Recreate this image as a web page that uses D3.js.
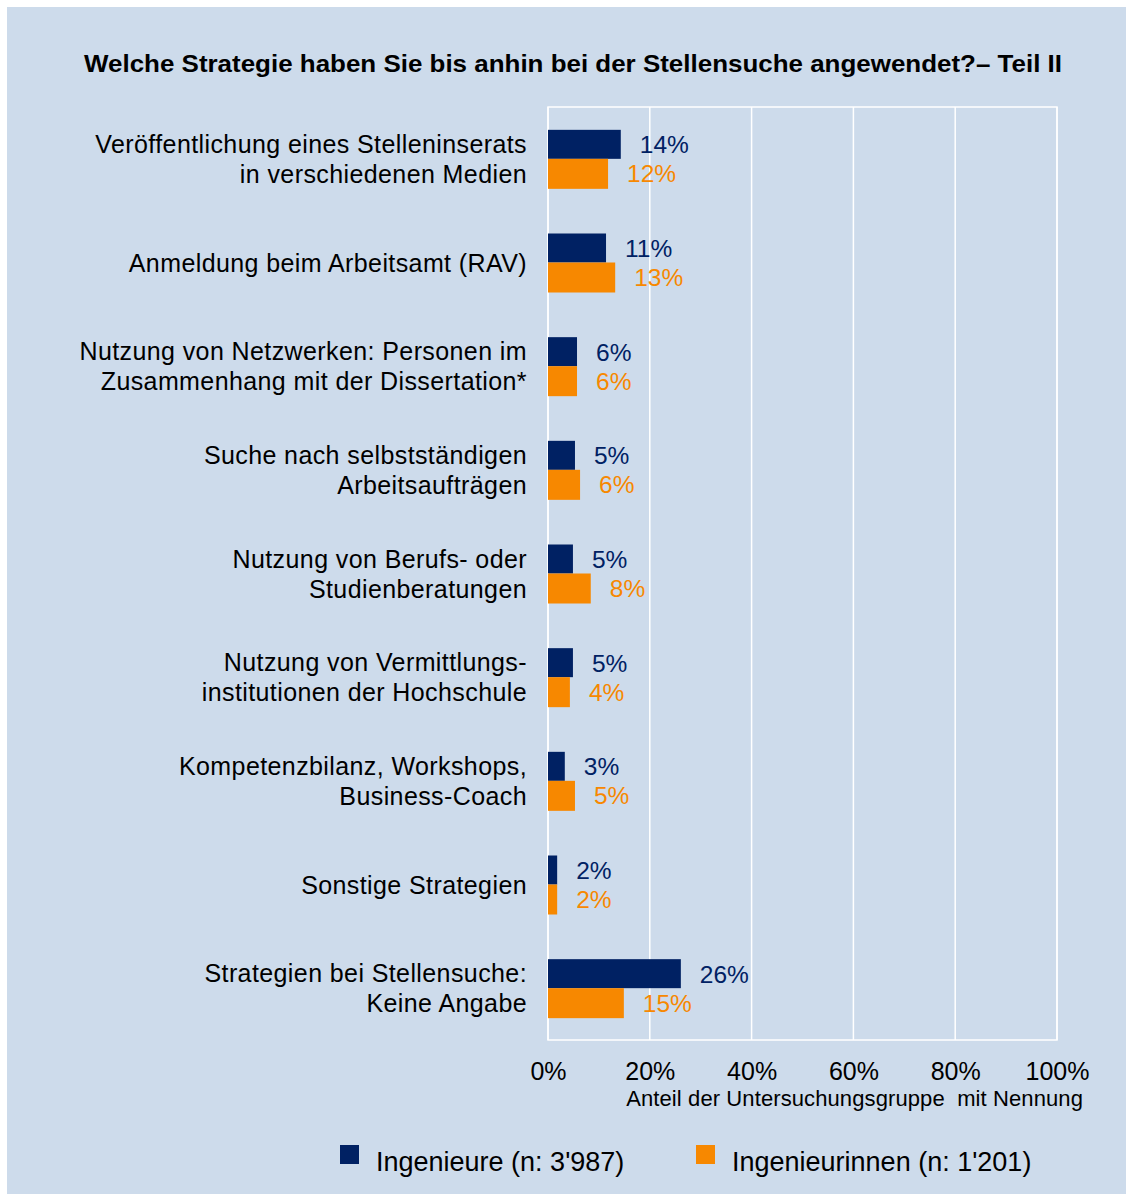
<!DOCTYPE html>
<html>
<head>
<meta charset="utf-8">
<script src="https://cdn.jsdelivr.net/npm/d3@7"></script>
<style>
  body { margin: 0; background: #fff; }
  text { font-family: "Liberation Sans", Arial, sans-serif; }
</style>
</head>
<body>
<div id="vis"></div>
<script>
var viewWidth = 1126
var viewHeight = 1194

var categories = [
  ["Veröffentlichung eines Stelleninserats", "in verschiedenen Medien"],
  ["Anmeldung beim Arbeitsamt (RAV)"],
  ["Nutzung von Netzwerken: Personen im", "Zusammenhang mit der Dissertation*"],
  ["Suche nach selbstständigen", "Arbeitsaufträgen"],
  ["Nutzung von Berufs- oder", "Studienberatungen"],
  ["Nutzung von Vermittlungs-", "institutionen der Hochschule"],
  ["Kompetenzbilanz, Workshops,", "Business-Coach"],
  ["Sonstige Strategien"],
  ["Strategien bei Stellensuche:", "Keine Angabe"]
]
var ingenieure = [14.3, 11.4, 5.7, 5.3, 4.9, 4.9, 3.3, 1.8, 26.1]
var ingenieurinnen = [11.8, 13.2, 5.7, 6.3, 8.4, 4.3, 5.3, 1.8, 14.9]
var tickValues = [0, 20, 40, 60, 80, 100]
var seriesNames = ["Ingenieure (n: 3'987)", "Ingenieurinnen (n: 1'201)"]

var navy = "#002163"
var orange = "#f78800"
var bg = "#cddbeb"

var plot = {left: 548, right: 1057, top: 107, bottom: 1040}

var svg = d3.select('#vis').append('svg')
  .attr('width', viewWidth)
  .attr('height', viewHeight)

svg.append('rect')
  .attr('x', 7).attr('y', 7)
  .attr('width', viewWidth - 7).attr('height', viewHeight - 7)
  .attr('fill', bg)

svg.append('text')
  .attr('x', 573).attr('y', 72)
  .attr('text-anchor', 'middle')
  .attr('font-size', 24.5)
  .attr('font-weight', 'bold')
  .attr('textLength', 978)
  .attr('lengthAdjust', 'spacingAndGlyphs')
  .text('Welche Strategie haben Sie bis anhin bei der Stellensuche angewendet?– Teil II')

var xScale = d3.scaleLinear().domain([0, 100]).range([plot.left, plot.right])
var yScale = d3.scaleBand().domain(d3.range(categories.length)).range([plot.top, plot.bottom])

// grid
svg.append('g').selectAll('line')
  .data(tickValues)
  .join('line')
  .attr('x1', d => xScale(d)).attr('x2', d => xScale(d))
  .attr('y1', plot.top).attr('y2', plot.bottom)
  .attr('stroke', '#fff').attr('stroke-width', 1.5)

svg.append('rect')
  .attr('x', plot.left).attr('y', plot.top)
  .attr('width', plot.right - plot.left).attr('height', plot.bottom - plot.top)
  .attr('fill', 'none').attr('stroke', '#fff').attr('stroke-width', 1.5)

var barH = 29
var groups = svg.append('g').selectAll('g')
  .data(categories)
  .join('g')
  .attr('transform', (d, i) => 'translate(0,' + (yScale(i) + yScale.bandwidth() / 2) + ')')

groups.append('rect')
  .attr('x', plot.left).attr('y', -barH)
  .attr('width', (d, i) => xScale(ingenieure[i]) - plot.left)
  .attr('height', barH)
  .attr('fill', navy)

groups.append('rect')
  .attr('x', plot.left).attr('y', 0)
  .attr('width', (d, i) => xScale(ingenieurinnen[i]) - plot.left)
  .attr('height', barH + 1)
  .attr('fill', orange)

groups.append('text')
  .attr('x', (d, i) => xScale(ingenieure[i]) + 19)
  .attr('y', -barH / 2 + 9)
  .attr('font-size', 24.5)
  .attr('fill', navy)
  .text((d, i) => Math.round(ingenieure[i]) + '%')

groups.append('text')
  .attr('x', (d, i) => xScale(ingenieurinnen[i]) + 19)
  .attr('y', barH / 2 + 9)
  .attr('font-size', 24.5)
  .attr('fill', orange)
  .text((d, i) => Math.round(ingenieurinnen[i]) + '%')

// category labels
groups.append('text')
  .attr('text-anchor', 'end')
  .attr('font-size', 25)
  .attr('letter-spacing', 0.4)
  .attr('fill', '#000')
  .each(function(d) {
    var t = d3.select(this)
    var lh = 30
    var y0 = -(d.length - 1) * lh / 2 + 9
    d.forEach(function(line, j) {
      t.append('tspan').attr('x', 527).attr('y', y0 + j * lh).text(line)
    })
  })

// x axis
var xAxis = d3.axisBottom(xScale)
  .tickValues(tickValues)
  .tickSize(0)
  .tickPadding(0)
  .tickFormat(d => d + '%')

var ax = svg.append('g')
  .attr('transform', 'translate(0,' + (plot.bottom + 40) + ')')
  .call(xAxis)
ax.select('.domain').remove()
ax.selectAll('text')
  .attr('font-size', 25)
  .attr('fill', '#000')
  .attr('dy', 0)
  .attr('font-family', '"Liberation Sans", Arial, sans-serif')

svg.append('text')
  .attr('x', 1083).attr('y', 1106)
  .attr('text-anchor', 'end')
  .attr('font-size', 22)
  .attr('letter-spacing', 0.1)
  .attr('xml:space', 'preserve')
  .text('Anteil der Untersuchungsgruppe  mit Nennung')

// legend
var legend = svg.append('g').selectAll('g')
  .data(seriesNames)
  .join('g')
  .attr('transform', (d, i) => 'translate(' + [340, 696][i] + ',1145)')

legend.append('rect')
  .attr('width', 19).attr('height', 19)
  .attr('fill', (d, i) => [navy, orange][i])

legend.append('text')
  .attr('x', 36).attr('y', 26)
  .attr('font-size', 27)
  .text(d => d)
</script>
</body>
</html>
